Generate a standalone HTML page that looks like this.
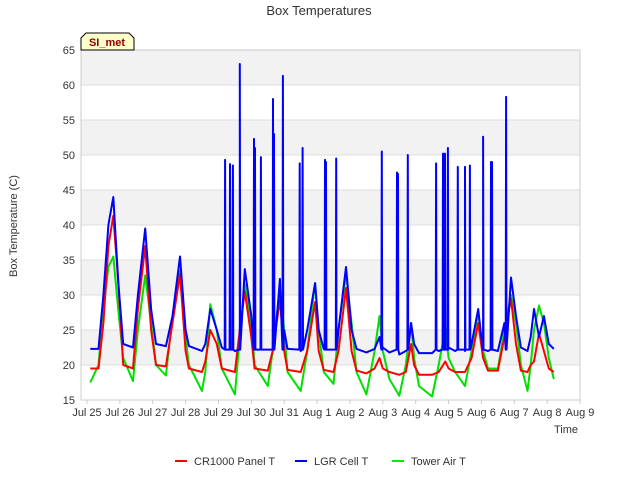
<!DOCTYPE html>
<html><head><meta charset="utf-8"><style>
body{margin:0;background:#fff;font-family:"Liberation Sans",sans-serif}
svg text{font-family:"Liberation Sans",sans-serif}
</style></head><body>
<svg id="chart" width="640" height="480">
<rect width="640" height="480" fill="#fff"/>
<text x="319" y="15" text-anchor="middle" font-size="13" fill="#333">Box Temperatures</text>
<g id="bands"></g><g id="grid"></g>
<rect x="81" y="50" width="499" height="350" fill="none" stroke="#ccc"/>
<g id="yticks"></g><g id="xticks"></g>
<defs><clipPath id="clip"><rect x="81" y="50" width="499" height="350"/></clipPath></defs>
<g id="series" clip-path="url(#clip)"></g>
<text transform="translate(17,226) rotate(-90)" text-anchor="middle" font-size="11" fill="#333">Box Temperature (C)</text>
<text x="566" y="433" text-anchor="middle" font-size="11" fill="#333">Time</text>
<g>
<path d="M81,50 L81,38 L86,33 L129,33 L134,38 L134,50 Z" fill="#ffffcc" stroke="#000"/>
<text x="107" y="46" text-anchor="middle" font-size="11" font-weight="bold" fill="#8b0000">SI_met</text></g>
<g>
<g><line x1="175" y1="461" x2="187" y2="461" stroke="#f00" stroke-width="2"/><text x="194" y="465" font-size="11" fill="#333">CR1000 Panel T</text></g>
<g><line x1="295" y1="461" x2="307" y2="461" stroke="#00f" stroke-width="2"/><text x="314" y="465" font-size="11" fill="#333">LGR Cell T</text></g>
<g><line x1="392" y1="461" x2="404" y2="461" stroke="#0e0" stroke-width="2"/><text x="411" y="465" font-size="11" fill="#333">Tower Air T</text></g>
</g>
</svg>
<script>
const yTicks=[15,20,25,30,35,40,45,50,55,60,65];
const xTickLabels=["Jul 25","Jul 26","Jul 27","Jul 28","Jul 29","Jul 30","Jul 31","Aug 1","Aug 2","Aug 3","Aug 4","Aug 5","Aug 6","Aug 7","Aug 8","Aug 9"];
const times=[0.1,0.35,0.5,0.65,0.8,0.95,1.1,1.4,1.55,1.77,1.95,2.1,2.4,2.6,2.83,3.0,3.1,3.5,3.6,3.75,3.95,4.1,4.5,4.65,4.8,5.0,5.1,5.5,5.65,5.87,6.0,6.1,6.5,6.7,6.94,7.05,7.2,7.5,7.65,7.88,8.05,8.2,8.5,8.75,8.9,9.0,9.2,9.5,9.7,9.86,9.95,10.1,10.5,10.7,10.9,11.0,11.2,11.5,11.7,11.9,12.05,12.2,12.5,12.7,12.9,13.05,13.2,13.4,13.5,13.6,13.75,13.9,14.05,14.2];
const panelT=[19.5,19.5,26,37,41.3,32,20,19.5,28,37,25,20,19.8,26,33,22,19.5,19,20.5,25,23,19.5,19,25,30.5,24,19.5,19.2,22,29.3,22,19.3,19,22,29,22,19.3,19,22,31,22,19.2,18.8,19.5,21,19.5,19,18.6,19,23,20,18.6,18.6,19,20.5,19.5,19,19,21,26,21,19.2,19.2,24,29.5,23,19.2,19,20,20.5,24.5,22,19.5,19];
const lgrT=[22.3,22.3,30,40,44,32,23,22.5,30,39.5,28,23,22.7,27,35.5,25,22.7,22,23,28,25,22.5,22,26,33.7,27,22.5,22.2,24,32.3,25,22.3,22,25,31.7,25,22.3,22.2,25,34,25,22.3,21.8,22.3,24,22.5,21.8,21.5,22,26,23,21.7,21.7,22,25,22.5,22,22,23,28,23.5,22,22,26,32.5,27,22.5,22,24,28,24,27,23,22.3];
const airT=[17.5,20,28,34,35.5,28,21,17.7,25,32.8,26,20,18.5,27,33.5,24,20,16.3,19,28.7,25,19.5,15.8,24,31.5,26,20,17,22,31,25,19,16.3,22,31.7,25,19,17.3,25,33,26,19,15.8,22,27,22,18,15.6,20,26,21,17,15.5,20,25.3,21,19,17,22,27.5,22,19.5,19.5,25,30,26,20,16.3,20,25,28.5,26,21,18];
const spikeTimes=[4.2,4.35,4.44,4.65,5.08,5.11,5.29,5.66,5.69,5.96,6.47,6.56,7.24,7.27,7.58,8.97,9.43,9.46,9.76,10.62,10.83,10.89,10.98,11.28,11.5,11.65,12.05,12.29,12.32,12.75];
const spikeVals=[49.3,48.7,48.5,63,52.3,51,49.7,58,53,61.3,48.8,51,49.3,49,49.5,50.5,47.5,47.3,50,48.8,50.2,50.2,51,48.3,48.3,48.5,52.6,49,49,58.3];
const NS="http://www.w3.org/2000/svg";
const X=d=>87+d*32.87, Y=v=>400-(v-15)*7;
function mk(tag,attrs,parent){const e=document.createElementNS(NS,tag);for(const k in attrs)e.setAttribute(k,attrs[k]);parent.appendChild(e);return e;}
const bands=document.getElementById('bands'),grid=document.getElementById('grid'),yt=document.getElementById('yticks'),xt=document.getElementById('xticks'),ser=document.getElementById('series');
for(let i=0;i<yTicks.length-1;i++){ if(i%2===1){const r=mk('rect',{x:81,y:Y(yTicks[i+1]),width:499,height:Y(yTicks[i])-Y(yTicks[i+1]),fill:'#f2f2f2'},bands);

}}
yTicks.forEach(v=>{const l=mk('line',{x1:81,x2:580,y1:Y(v),y2:Y(v),stroke:'#ddd'},grid);


const t=mk('text',{x:75,y:Y(v)+4,'text-anchor':'end','font-size':11,fill:'#333'},yt);t.textContent=v;

});
xTickLabels.forEach((s,i)=>{mk('line',{x1:X(i),x2:X(i),y1:400,y2:404,stroke:'#ccc'},xt);
const t=mk('text',{x:X(i),y:416,'text-anchor':'middle','font-size':11,fill:'#333'},xt);t.textContent=s;

});
function line(pts,color,name){const p=mk('polyline',{points:pts.map(q=>X(q[0]).toFixed(1)+','+Y(q[1]).toFixed(1)).join(' '),fill:'none',stroke:color,'stroke-width':2,'stroke-linejoin':'round'},ser);

}
line(times.map((t,i)=>[t,airT[i]]),'#00e000','series-tower-air-t');
line(times.map((t,i)=>[t,panelT[i]]),'#ff0000','series-cr1000-panel-t');
let bl=times.map((t,i)=>[t,lgrT[i]]);
spikeTimes.forEach((t,i)=>{bl.push([t-0.012,22.2]);bl.push([t,spikeVals[i]]);bl.push([t+0.012,22.2]);});
bl.sort((a,b)=>a[0]-b[0]);
line(bl,'#0000ff','series-lgr-cell-t');
</script>
</body></html>
